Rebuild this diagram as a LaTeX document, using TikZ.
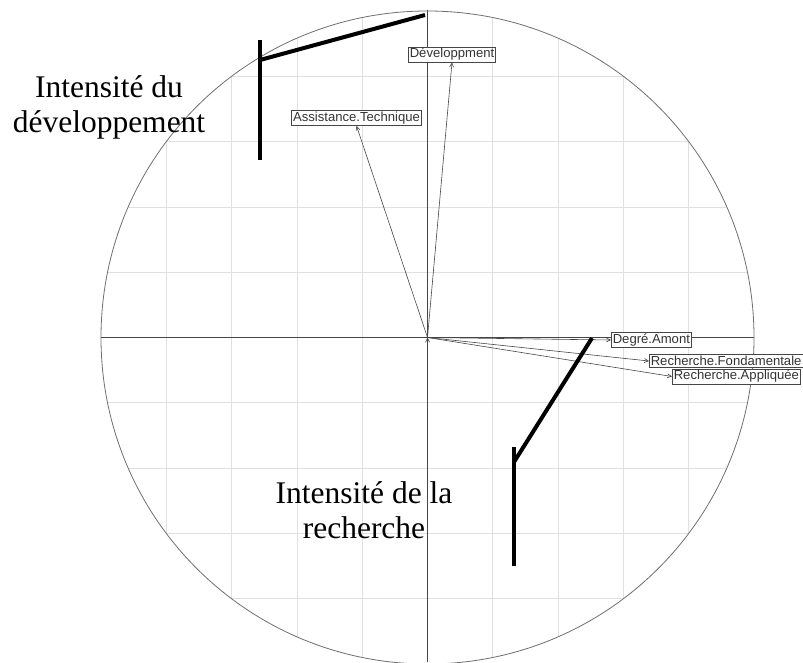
\documentclass[tikz,border=0pt]{standalone}
\usepackage{fontspec}
\setmainfont{Liberation Serif}
\newfontfamily\lblfont{Liberation Sans}
\usetikzlibrary{arrows.meta,positioning}
\definecolor{axisgray}{RGB}{70,70,70}
\definecolor{circgray}{RGB}{110,110,110}
\definecolor{gridgray}{RGB}{224,224,224}

\begin{document}
\begin{tikzpicture}[x=1pt,y=-1pt,
		var/.style={draw=axisgray,line width=0.7pt,fill=white,inner sep=1.4pt,
			font=\lblfont\fontsize{13.1}{14}\selectfont,text=black!80},
		vec/.style={draw=axisgray,line width=0.6pt,-{Straight Barb[length=4pt,width=4pt]}},
		bigtext/.style={align=center,font=\fontsize{31.5}{35}\selectfont},
		thick bar/.style={line width=4pt}]
		\useasboundingbox (0,0) rectangle (803,662);
		\coordinate (o) at (427.5,337.5);
		\begin{scope}
			\clip (o) circle (326.5pt);
			\foreach \k in {-4,...,-1,1,2,3,4} {
				\draw[gridgray,line width=0.8pt] (427.5+65.3*\k,0) -- (427.5+65.3*\k,662);
				\draw[gridgray,line width=0.8pt] (0,337.5+65.3*\k) -- (803,337.5+65.3*\k);
			}
		\end{scope}
		\draw[axisgray,line width=0.7pt] (101,337.5) -- (754,337.5);
		\draw[axisgray,line width=0.7pt] (427.5,10) -- (427.5,662);
		\draw[circgray,line width=0.8pt] (o) circle (326.5pt);
		\node[var] (dev) at (452,54.5) {Développment};
		\node[var] (assist) at (356.5,118) {Assistance.Technique};
		\node[var,anchor=west] (amont) at (611,340) {Degré.Amont};
		\node[var,anchor=west] (appl) at (672,376.5) {Recherche.Appliquée};
		\node[var,anchor=west] (fond) at (649,361) {Recherche.Fondamentale};
		\path[vec]
		(o) edge (dev.south)
		(o) edge (assist.south)
		(o) edge (amont.west)
		(o) edge (fond.west)
		(o) edge (appl.west);
		\node[bigtext] (devtxt) at (109,107.5) {Intensité du\\développement};
		\node[bigtext] (rechtxt) at (364,510.5) {Intensité de la\\recherche};
		\coordinate (devtip) at (425,15);
		\coordinate (devjoint) at (260,60);
		\coordinate (devtop) at (260,40);
		\coordinate (devfoot) at (260,160);
		\coordinate (rechtip) at (592,338);
		\coordinate (rechjoint) at (514,462);
		\coordinate (rechtop) at (514,447);
		\coordinate (rechfoot) at (514,566);
		\draw[thick bar] (devtip) -- (devjoint);
		\draw[thick bar] (devtop) -- (devfoot);
		\draw[thick bar] (rechtip) -- (rechjoint);
		\draw[thick bar] (rechtop) -- (rechfoot);
	\end{tikzpicture}
\end{document}
